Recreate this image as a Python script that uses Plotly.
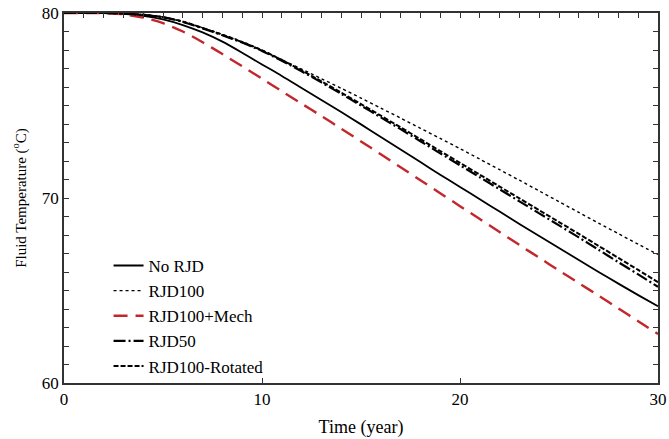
import plotly.graph_objects as go

years = list(range(0, 31))

no_rjd = [80, 80, 79.99, 79.95, 79.85, 79.65, 79.35, 78.95, 78.45, 77.85, 77.22,
          76.6, 75.95, 75.3, 74.65, 73.98, 73.3, 72.62, 71.94, 71.26, 70.6,
          69.93, 69.27, 68.6, 67.95, 67.3, 66.65, 66.0, 65.37, 64.75, 64.15]

rjd100 = [80, 80, 80, 79.98, 79.92, 79.78, 79.55, 79.2, 78.85, 78.45, 78.0,
          77.48, 76.97, 76.45, 75.93, 75.4, 74.86, 74.32, 73.77, 73.22, 72.67,
          72.1, 71.53, 70.96, 70.38, 69.8, 69.22, 68.64, 68.07, 67.5, 66.95]

rjd100_mech = [80, 80, 80, 79.93, 79.75, 79.45, 79.0, 78.42, 77.78, 77.12, 76.45,
               75.77, 75.1, 74.43, 73.75, 73.06, 72.36, 71.66, 70.96, 70.26, 69.56,
               68.86, 68.16, 67.46, 66.77, 66.08, 65.4, 64.72, 64.03, 63.34, 62.65]

rjd50 = [80, 80, 80, 79.97, 79.9, 79.77, 79.52, 79.17, 78.8, 78.4, 77.95,
         77.42, 76.85, 76.25, 75.63, 75.0, 74.36, 73.72, 73.07, 72.42, 71.77,
         71.12, 70.47, 69.82, 69.17, 68.52, 67.87, 67.2, 66.53, 65.87, 65.2]

rjd100_rot = [80, 80, 80, 79.97, 79.9, 79.77, 79.53, 79.19, 78.82, 78.42, 77.98,
              77.46, 76.9, 76.31, 75.7, 75.08, 74.45, 73.82, 73.18, 72.54, 71.9,
              71.26, 70.62, 69.98, 69.34, 68.7, 68.06, 67.41, 66.76, 66.11, 65.45]

x_tick_vals = [0, 10, 20, 30]
y_tick_vals = [60, 70, 80]

series = [
    ("No RJD", no_rjd, dict(color="black", width=1.8, dash="solid")),
    ("RJD100", rjd100, dict(color="black", width=1.4, dash="dot")),
    ("RJD100+Mech", rjd100_mech, dict(color="#c1272d", width=2.4, dash="14px,8px")),
    ("RJD50", rjd50, dict(color="black", width=2.2, dash="12px,3px,2px,3px")),
    ("RJD100-Rotated", rjd100_rot, dict(color="black", width=2.0, dash="5px,2px")),
]

fig = go.Figure()
for name, vals, line in series:
    fig.add_trace(go.Scatter(x=years, y=vals, mode="lines", name=name,
                             line=dict(shape="spline", smoothing=0.8, **line)))

# carrier for the top axis (yearly ticks)
fig.add_trace(go.Scatter(x=[years[0], years[-1]], y=[rjd100[0], rjd100[0]], xaxis="x2",
                         mode="lines", line=dict(width=0), opacity=0,
                         showlegend=False, hoverinfo="skip"))

font_family = "Liberation Serif, Times New Roman, serif"
axis_color = "#333333"

fig.update_layout(
    width=669, height=439,
    margin=dict(l=64, r=11, t=13, b=56, autoexpand=False),
    paper_bgcolor="white", plot_bgcolor="white",
    font=dict(family=font_family, size=17, color="black"),
    showlegend=True,
    legend=dict(x=0.075, y=0.365, xanchor="left", yanchor="top",
                bgcolor="rgba(0,0,0,0)", font=dict(size=17, family=font_family),
                tracegroupgap=0, itemwidth=30),
    xaxis=dict(range=[0, 30], tickvals=x_tick_vals, ticks="inside", ticklen=5, tickwidth=1.2,
               tickcolor=axis_color, automargin=False,
               showline=True, linecolor=axis_color, linewidth=1.5,
               mirror=True, showgrid=False, zeroline=False,
               tickfont=dict(size=17),
               title=dict(text="Time (year)", font=dict(size=18), standoff=12)),
    xaxis2=dict(range=[0, 30], overlaying="x", side="top", dtick=1, tick0=0,
                ticks="inside", ticklen=5, tickwidth=1.2, tickcolor=axis_color,
                showticklabels=False, showline=False, showgrid=False, zeroline=False,
                automargin=False),
    yaxis=dict(range=[60, 80], tickvals=y_tick_vals, ticks="inside", ticklen=5, tickwidth=1.2,
               tickcolor=axis_color, automargin=False,
               showline=True, linecolor=axis_color, linewidth=1.5,
               mirror="ticks", showgrid=False, zeroline=False,
               tickfont=dict(size=17),
               minor=dict(dtick=1, ticks="inside", ticklen=5, tickwidth=1.2,
                          tickcolor=axis_color, showgrid=False),
               title=dict(text="Fluid Temperature (<sup>o</sup>C)",
                          font=dict(size=15, color="black"), standoff=12)),
)

fig.write_html("out.html")
